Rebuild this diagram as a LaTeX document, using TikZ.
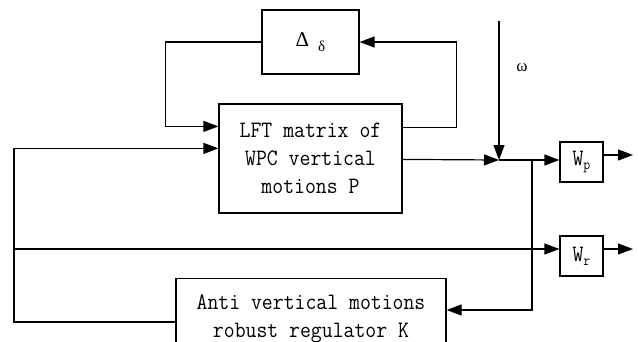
\documentclass[tikz,border=0pt]{standalone}
\usepackage{fontspec}
\setmonofont{Latin Modern Mono}[FakeStretch=0.9]
\newfontfamily\greekfont{Liberation Serif}
\usetikzlibrary{arrows.meta}
\tikzset{
  blockbox/.style={draw, line width=1.2pt, inner sep=0pt, align=center,
    font=\ttfamily\fontsize{23.5}{28}\selectfont},
  sig/.style={line width=1.2pt, -{Triangle[length=15pt,width=11pt]}},
}
\newcommand{\wsub}[1]{W\raisebox{-4pt}{\fontsize{15}{15}\selectfont #1}}

\begin{document}
\begin{tikzpicture}[x=1pt,y=1pt,yscale=-1]
\clip (0,0) rectangle (638,341);

% Blocks
\node[blockbox, minimum width=97pt, minimum height=64pt] (delta) at (310.5,42)
  {\greekfont\fontsize{21}{21}\selectfont Δ\hspace{9pt}\raisebox{-5pt}{\fontsize{15}{15}\selectfont δ}};
\node[blockbox, minimum width=183pt, minimum height=109pt] (lft) at (310.5,158.5)
  {LFT matrix of\\WPC vertical\\motions P};
\node[blockbox, minimum width=43pt, minimum height=40pt] (wp) at (581.5,162) {\wsub{p}};
\node[blockbox, minimum width=43pt, minimum height=40pt] (wr) at (581.5,256) {\wsub{r}};
\node[blockbox, minimum width=270pt, minimum height=80pt, anchor=north] (reg) at (311,278)
  {Anti vertical motions\\robust regulator K};
\node (omegalabel) at (522,68) {\greekfont\fontsize{17}{17}\selectfont ω};

% Ports and junctions
\coordinate (lftin1) at ([yshift=23pt]lft.north west);
\coordinate (lftin2) at ([yshift=45pt]lft.north west);
\coordinate (lftout1) at ([yshift=24pt]lft.north east);
\coordinate (lftout2) at ([yshift=56pt]lft.north east);
\coordinate (wpin) at ([yshift=-2pt]wp.west);
\coordinate (wpout) at ([yshift=-7pt]wp.east);
\coordinate (wrin) at ([yshift=-7pt]wr.west);
\coordinate (wrout) at ([yshift=-7pt]wr.east);
\coordinate (regin) at ([yshift=32pt]reg.north east);
\coordinate (regout) at ([yshift=44pt]reg.north west);
\coordinate (sum) at (499,160);
\coordinate (omega) at (499,21);
\coordinate (tap) at (532,160);
\coordinate (bus) at (14,249);
\coordinate (pend) at (633,155);
\coordinate (rend) at (633,249);

% Signals
\draw[sig] (delta.west) -- ++(-96,0) |- (lftin1);
\draw[sig] (lftout1) -- ++(54,0) |- (delta.east);
\draw[sig] (lftout2) -- (sum);
\draw[sig] (omega) -- (sum);
\draw[sig] (sum) -- (wpin);
\draw[sig] (wpout) -- (pend);
\draw[sig] (tap) |- (regin);
\draw[sig] (regout) -| (bus) |- (lftin2);
\draw[sig] (bus) -- (wrin);
\draw[sig] (wrout) -- (rend);

\end{tikzpicture}
\end{document}
